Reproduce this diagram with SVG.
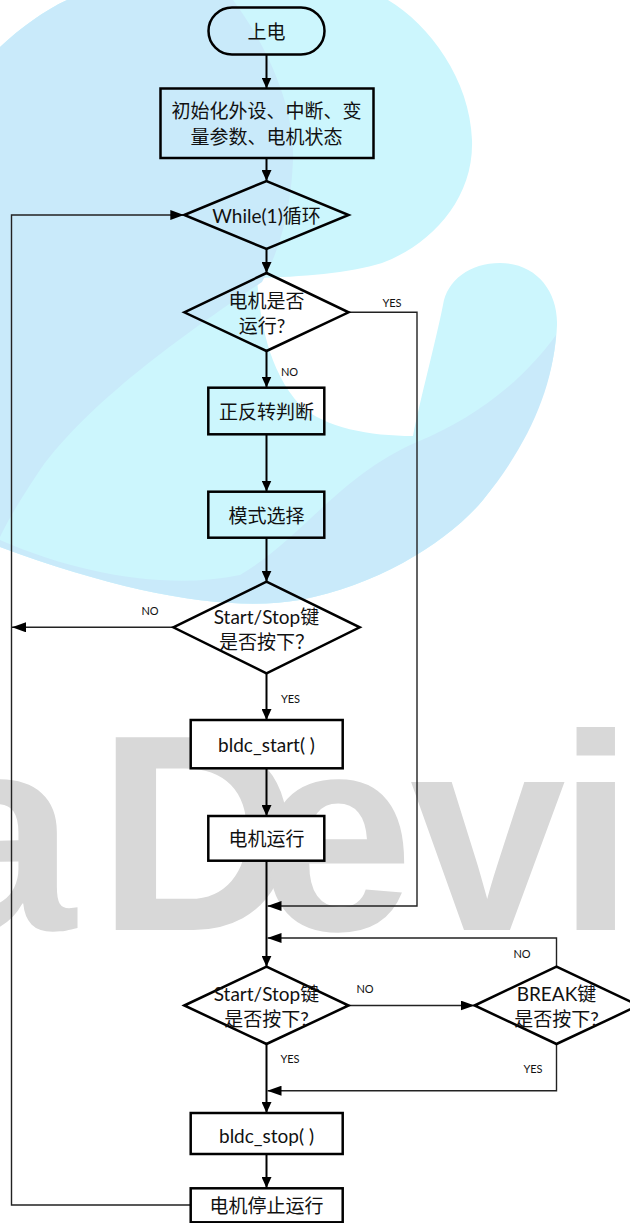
<svg xmlns="http://www.w3.org/2000/svg" width="630" height="1223" viewBox="0 0 630 1223">
<style>
.node{stroke:#000;stroke-width:2.5;fill:none}
.wf{fill:#fff}
.t{font-family:Lato,"Noto Sans CJK SC",sans-serif;font-size:19px;fill:#111;text-anchor:middle;dominant-baseline:central}
.lb{font-family:Lato,"Noto Sans CJK SC",sans-serif;font-size:11px;fill:#111;text-anchor:middle;dominant-baseline:central}
.c{fill:none;stroke:#000;stroke-width:2}
.ct{fill:none;stroke:#222;stroke-width:1.4}
</style>
<defs>
<marker id="a" markerUnits="userSpaceOnUse" markerWidth="11" markerHeight="10" refX="11" refY="5" orient="auto"><path d="M0,0 L11,5 L0,10 z" fill="#000"/></marker>
<marker id="b" markerUnits="userSpaceOnUse" markerWidth="14" markerHeight="10" refX="14" refY="5" orient="auto"><path d="M0,0 L14,5 L0,10 z" fill="#000"/></marker>
</defs>
<rect width="630" height="1223" fill="#fff"/>
<g id="watermark">
<text x="-80 97 258 410 557" y="930" font-family="Liberation Sans, Arial, sans-serif" font-weight="bold" font-size="280" fill="#d8d8d8">aDevi</text>
<path fill="#ccf6fd" d="M0,47 C20,28 45,10 67,0 L388,0 C430,25 470,80 472,140 C474,200 430,245 382,263 C350,273 300,277 257,278 C260,320 268,370 300,405 C325,428 370,436 413,436 C420,400 435,345 443,305 C447,280 470,263 500,263 C535,263 558,290 557,325 C555,380 530,440 483,500 C450,540 380,585 300,600 C230,612 130,595 0,547 Z"/>
<path fill="#c9eafa" d="M0,47 C20,28 45,10 67,0 L233,0 C270,50 295,110 293,160 C291,210 280,250 262,282 C190,330 90,400 40,470 C20,500 8,520 0,537 Z"/>
<path fill="#c9eafa" d="M556,335 C552,390 528,445 483,500 C450,540 380,585 300,600 C230,612 130,595 0,547 L0,540 C80,575 170,590 240,575 C300,540 340,475 417,442 C470,420 520,385 556,335 Z"/>
</g>
<g id="connectors">
<path class="c" d="M266.5,54.5 V88.5" marker-end="url(#a)"/>
<path class="c" d="M266.5,158 V181" marker-end="url(#a)"/>
<path class="c" d="M266.5,249 V273" marker-end="url(#a)"/>
<path class="c" d="M266.5,351 V387.5" marker-end="url(#a)"/>
<path class="c" d="M266.5,434.5 V491.5" marker-end="url(#a)"/>
<path class="c" d="M266.5,537.7 V581.7" marker-end="url(#a)"/>
<path class="c" d="M266.5,673.3 V720" marker-end="url(#a)"/>
<path class="c" d="M266.5,768.3 V816" marker-end="url(#a)"/>
<path class="c" d="M266.5,861 V966.7" marker-end="url(#a)"/>
<path class="c" d="M266.5,1044 V1113" marker-end="url(#a)"/>
<path class="c" d="M266.5,1154 V1188" marker-end="url(#a)"/>
<path class="ct" d="M348.6,312.3 H417 V906 H267.5" marker-end="url(#b)"/>
<path class="ct" d="M556.5,966.7 V938 H267.5" marker-end="url(#b)"/>
<path class="ct" d="M348.6,1005.5 H474.6" marker-end="url(#b)"/>
<path class="ct" d="M556.5,1044 V1090.7 H267.5" marker-end="url(#b)"/>
<path class="ct" d="M173.3,627.3 H12" marker-end="url(#b)"/>
<path class="ct" d="M190.5,1205 H11.5 V215 H184.3" marker-end="url(#b)"/>
<text class="lb" x="392" y="302">YES</text>
<text class="lb" x="289.5" y="371">NO</text>
<text class="lb" x="150" y="610">NO</text>
<text class="lb" x="290.5" y="698">YES</text>
<text class="lb" x="365" y="988">NO</text>
<text class="lb" x="522" y="953">NO</text>
<text class="lb" x="290" y="1058">YES</text>
<text class="lb" x="533" y="1068">YES</text>
</g>
<g id="n_start"><rect class="node" x="208.5" y="7.5" width="116" height="47" rx="23.5"/><text class="t" x="266.5" y="31.5">上电</text></g>
<g id="n_init"><rect class="node" x="160.5" y="88.5" width="213" height="69.5"/><text class="t" x="266.5" y="110">初始化外设、中断、变</text><text class="t" x="266.5" y="136">量参数、电机状态</text></g>
<g id="n_while"><path class="node" d="M184.3,215 L266.5,181 L348.6,215 L266.5,249 Z"/><text class="t" x="266.5" y="215">While(1)循环</text></g>
<g id="n_running"><path class="node" d="M184.3,312.3 L266.5,273 L348.6,312.3 L266.5,351 Z"/><text class="t" x="266.5" y="300">电机是否</text><text class="t" x="262" y="325.5">运行?</text></g>
<g id="n_dir"><rect class="node" x="208.3" y="387.7" width="116" height="46.6"/><text class="t" x="266.5" y="411.5">正反转判断</text></g>
<g id="n_mode"><rect class="node" x="208.3" y="491.7" width="116" height="46"/><text class="t" x="266.5" y="515">模式选择</text></g>
<g id="n_ss1"><path class="node" d="M173.3,627.3 L266.5,581.7 L359.7,627.3 L266.5,673.3 Z"/><text class="t" x="266.5" y="616">Start/Stop键</text><text class="t" x="266.5" y="641">是否按下？</text></g>
<g id="n_bstart"><rect class="node wf" x="190.7" y="720" width="152" height="48.3"/><text class="t" x="266.5" y="744">bldc_start( )</text></g>
<g id="n_run"><rect class="node wf" x="208.3" y="816" width="116" height="44.7"/><text class="t" x="266.5" y="838.5">电机运行</text></g>
<g id="n_ss2"><path class="node wf" d="M184.3,1005.5 L266.5,966.7 L348.6,1005.5 L266.5,1044 Z"/><text class="t" x="266.5" y="993">Start/Stop键</text><text class="t" x="266.5" y="1018">是否按下?</text></g>
<g id="n_break"><path class="node wf" d="M474.6,1005.5 L556.5,966.7 L638.5,1005.5 L556.5,1044 Z"/><text class="t" x="556.5" y="993">BREAK键</text><text class="t" x="556.5" y="1018">是否按下?</text></g>
<g id="n_bstop"><rect class="node wf" x="190.7" y="1113" width="152" height="41"/><text class="t" x="266.5" y="1135">bldc_stop( )</text></g>
<g id="n_stopped"><rect class="node wf" x="190.7" y="1188.3" width="152" height="34"/><text class="t" x="266.5" y="1205">电机停止运行</text></g>
</svg>
